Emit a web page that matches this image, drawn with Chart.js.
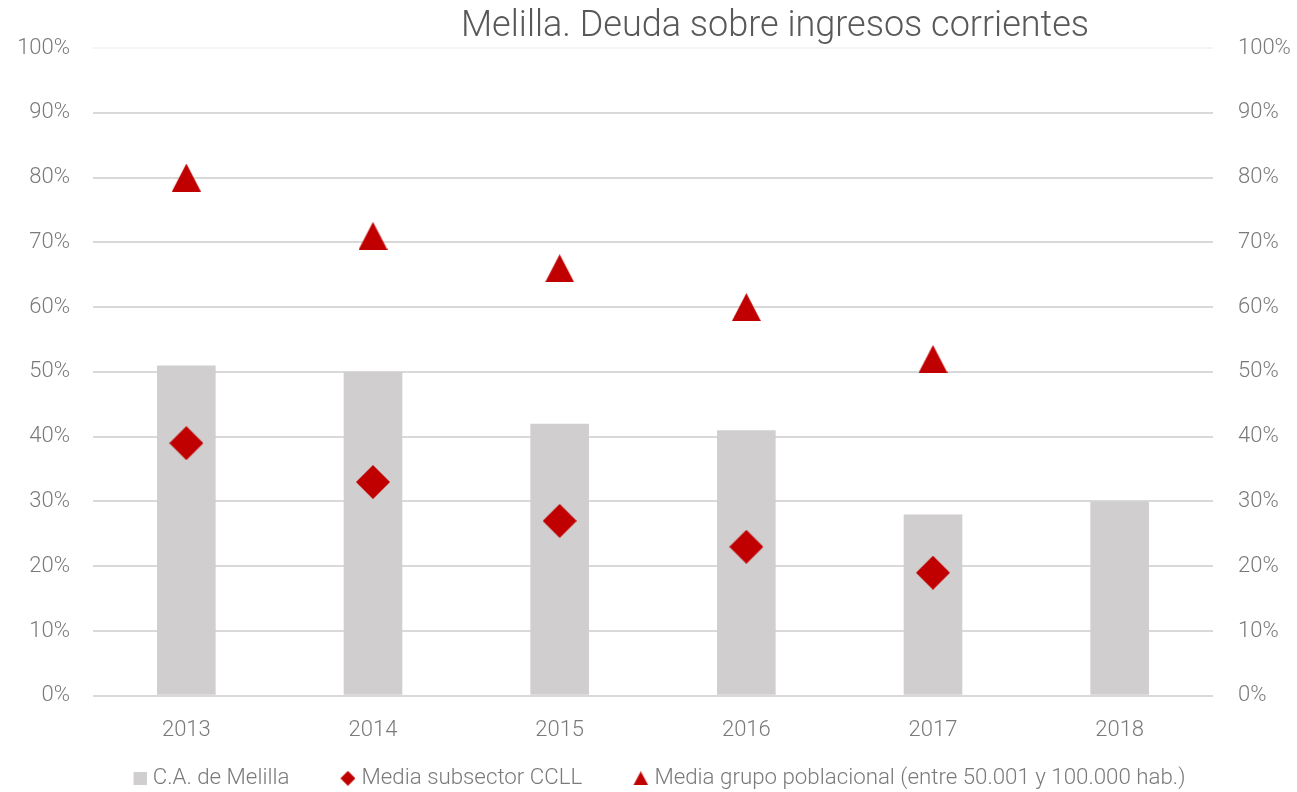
<!DOCTYPE html>
<html>
<head>
<meta charset="utf-8">
<script src="https://cdn.jsdelivr.net/npm/chart.js@4.4.1/dist/chart.umd.min.js"></script>
<style>
  html, body { margin: 0; padding: 0; background: #fff; }
  #wrap { width: 1297px; height: 792px; }
</style>
</head>
<body>
<div id="wrap"><canvas id="myChart"></canvas></div>
<script>
// data
const years = ["2013", "2014", "2015", "2016", "2017", "2018"];
const melilla = [51, 50, 42, 41, 28, 30];
const mediaSubsector = [39, 33, 27, 23, 19, null];
const mediaGrupo = [80, 71, 66, 60, 52, null];
const seriesNames = [
  "C.A. de Melilla",
  "Media subsector CCLL",
  "Media grupo poblacional (entre 50.001 y 100.000 hab.)",
];
const titleText = "Melilla. Deuda sobre ingresos corrientes";

const grey = "#d0cece";
const red = "#c00000";
const textGrey = "#7a7a7a";
const fontFamily = "Roboto, 'Open Sans', sans-serif";

// small canvases used as point styles
// total = full canvas width, shape sits at the right end (legend spacing)
function makeMarker(shape, w, h, color, total) {
  total = total || w;
  const c = document.createElement("canvas");
  c.width = total;
  c.height = h;
  const ctx = c.getContext("2d");
  ctx.fillStyle = color;
  ctx.translate(total - w, 0);
  ctx.beginPath();
  if (shape == "square") {
    ctx.rect(0, 0, w, h);
  } else if (shape == "diamond") {
    ctx.moveTo(w / 2, 0);
    ctx.lineTo(w, h / 2);
    ctx.lineTo(w / 2, h);
    ctx.lineTo(0, h / 2);
  } else {
    ctx.moveTo(w / 2, 0);
    ctx.lineTo(w, h);
    ctx.lineTo(0, h);
  }
  ctx.closePath();
  ctx.fill();
  return c;
}

const diamondPt = makeMarker("diamond", 34, 34, red);
const trianglePt = makeMarker("triangle", 29, 28, red);
const legendMarkers = [
  makeMarker("square", 13, 13, grey, 68),
  makeMarker("diamond", 15, 15, red, 68),
  makeMarker("triangle", 15, 14, red, 68),
];

// title is drawn off-centre like the original
const titlePlugin = {
  id: "offTitle",
  afterDraw(chart) {
    const ctx = chart.ctx;
    ctx.save();
    ctx.font = "300 36px " + fontFamily;
    ctx.fillStyle = "#595959";
    ctx.textAlign = "center";
    ctx.textBaseline = "middle";
    ctx.fillText(titleText, 775, 27);
    ctx.restore();
  },
};

const tickFont = { family: fontFamily, size: 22, weight: 300 };

new Chart("myChart", {
  data: {
    labels: years,
    datasets: [
      {
        type: "bar",
        label: seriesNames[0],
        data: melilla,
        backgroundColor: grey,
        barPercentage: 0.314,
        categoryPercentage: 1,
        order: 3,
      },
      {
        type: "line",
        label: seriesNames[1],
        data: mediaSubsector,
        showLine: false,
        pointStyle: diamondPt,
        backgroundColor: red,
        borderColor: red,
        order: 2,
      },
      {
        type: "line",
        label: seriesNames[2],
        data: mediaGrupo,
        showLine: false,
        pointStyle: trianglePt,
        backgroundColor: red,
        borderColor: red,
        order: 1,
      },
    ],
  },
  options: {
    responsive: true,
    maintainAspectRatio: false,
    animation: false,
    layout: { padding: { top: 48, left: -28, right: 0, bottom: -7.5 } },
    scales: {
      x: {
        grid: { display: false, drawTicks: false },
        border: { display: false },
        ticks: { color: textGrey, font: tickFont, padding: 21 },
      },
      y: {
        position: "left",
        min: 0,
        max: 100,
        ticks: {
          stepSize: 10,
          color: textGrey,
          font: tickFont,
          padding: 23,
          callback: (v) => v + "%",
        },
        grid: {
          drawTicks: false,
          lineWidth: 2,
          color: (c) => (c.tick && c.tick.value == 100 ? "#f4f4f4" : "#d9d9d9"),
        },
        border: { display: false },
        afterFit(scale) {
          scale.width = 121;
        },
      },
      y2: {
        position: "right",
        min: 0,
        max: 100,
        ticks: {
          stepSize: 10,
          color: textGrey,
          font: tickFont,
          padding: 25,
          callback: (v) => v + "%",
        },
        grid: { display: false, drawTicks: false },
        border: { display: false },
        afterFit(scale) {
          scale.width = 84;
        },
      },
    },
    plugins: {
      title: { display: false },
      tooltip: { enabled: false },
      legend: {
        position: "bottom",
        labels: {
          usePointStyle: true,
          pointStyleWidth: 58,
          boxHeight: 11,
          padding: 3,
          color: textGrey,
          font: { family: fontFamily, size: 22.3, weight: 300 },
          sort: (a, b) => a.datasetIndex - b.datasetIndex,
          generateLabels(chart) {
            const items = Chart.defaults.plugins.legend.labels.generateLabels(chart);
            items.forEach((it) => {
              it.pointStyle = legendMarkers[it.datasetIndex];
            });
            return items;
          },
        },
      },
    },
  },
  plugins: [titlePlugin],
});
</script>
</body>
</html>
